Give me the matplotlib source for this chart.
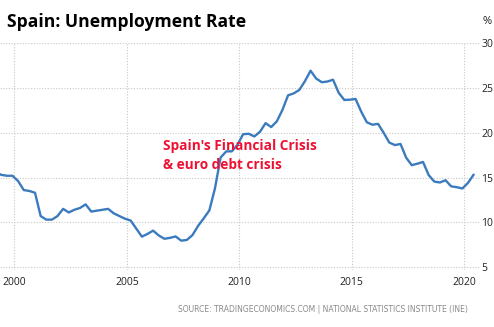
import numpy as np
import matplotlib
matplotlib.use("Agg")
import matplotlib.pyplot as plt

# Spain quarterly unemployment rate (%)
quarters = [
    "1999Q1", "1999Q2", "1999Q3", "1999Q4",
    "2000Q1", "2000Q2", "2000Q3", "2000Q4",
    "2001Q1", "2001Q2", "2001Q3", "2001Q4",
    "2002Q1", "2002Q2", "2002Q3", "2002Q4",
    "2003Q1", "2003Q2", "2003Q3", "2003Q4",
    "2004Q1", "2004Q2", "2004Q3", "2004Q4",
    "2005Q1", "2005Q2", "2005Q3", "2005Q4",
    "2006Q1", "2006Q2", "2006Q3", "2006Q4",
    "2007Q1", "2007Q2", "2007Q3", "2007Q4",
    "2008Q1", "2008Q2", "2008Q3", "2008Q4",
    "2009Q1", "2009Q2", "2009Q3", "2009Q4",
    "2010Q1", "2010Q2", "2010Q3", "2010Q4",
    "2011Q1", "2011Q2", "2011Q3", "2011Q4",
    "2012Q1", "2012Q2", "2012Q3", "2012Q4",
    "2013Q1", "2013Q2", "2013Q3", "2013Q4",
    "2014Q1", "2014Q2", "2014Q3", "2014Q4",
    "2015Q1", "2015Q2", "2015Q3", "2015Q4",
    "2016Q1", "2016Q2", "2016Q3", "2016Q4",
    "2017Q1", "2017Q2", "2017Q3", "2017Q4",
    "2018Q1", "2018Q2", "2018Q3", "2018Q4",
    "2019Q1", "2019Q2", "2019Q3", "2019Q4",
    "2020Q1", "2020Q2",
]
rate = [
    15.6, 15.3, 15.2, 15.2,
    14.6, 13.6, 13.5, 13.3,
    10.7, 10.3, 10.3, 10.7,
    11.5, 11.1, 11.4, 11.6,
    12.0, 11.2, 11.3, 11.4,
    11.5, 11.0, 10.7, 10.4,
    10.2, 9.3, 8.4, 8.7,
    9.07, 8.53, 8.16, 8.26,
    8.42, 7.95, 8.03, 8.57,
    9.60, 10.44, 11.33, 13.79,
    17.24, 17.92, 17.93, 18.66,
    19.84, 19.89, 19.59, 20.11,
    21.08, 20.64, 21.28, 22.56,
    24.19, 24.40, 24.79, 25.77,
    26.94, 26.06, 25.65, 25.73,
    25.93, 24.47, 23.67, 23.70,
    23.78, 22.37, 21.18, 20.90,
    21.00, 20.00, 18.91, 18.63,
    18.75, 17.22, 16.38, 16.55,
    16.74, 15.28, 14.55, 14.45,
    14.70, 14.02, 13.92, 13.78,
    14.41, 15.33,
]
year_ticks = [2000, 2005, 2010, 2015, 2020]
rate_ticks = [5, 10, 15, 20, 25, 30]

# each quarter is dated at the start of its last month
t = np.array([int(q[:4]) + (int(q[-1]) * 3 - 1) / 12 for q in quarters])

fig = plt.figure(figsize=(4.94, 3.27), dpi=100)
ax = fig.add_axes([0.0, 0.1743, 0.9717, 0.6933])

ax.plot(t, rate, color="#3b7bbd", lw=1.7, solid_joinstyle="round", solid_capstyle="round")

ax.set_xlim(1999.36, 2020.7)
ax.set_ylim(4.67, 30)
ax.set_xticks(year_ticks)
ax.set_yticks(rate_ticks)
ax.yaxis.tick_right()
ax.grid(True, color="#c8c8c8", lw=0.8, ls=(0, (1, 1.5)))
for s in ax.spines.values():
    s.set_visible(False)
ax.tick_params(length=0, labelsize=7.5, labelcolor="#222222", pad=1)
ax.tick_params(axis="x", pad=5)
for lab in ax.get_xticklabels() + ax.get_yticklabels():
    lab.set_fontfamily("Open Sans")

fig.text(0.014, 0.933, "Spain: Unemployment Rate", fontsize=12.6, fontweight="bold",
         family="Open Sans", va="center", ha="left", color="black")
fig.text(0.976, 0.933, "%", fontsize=8, family="Open Sans", va="center", ha="left", color="#222222")

ax.text(2006.6, 19.3, "Spain's Financial Crisis\n& euro debt crisis", fontsize=9.8,
        fontweight="bold", family="Open Sans", color="#ee1133", va="top", ha="left",
        linespacing=1.45)

fig.text(0.36, 0.055, "SOURCE: TRADINGECONOMICS.COM | NATIONAL STATISTICS INSTITUTE (INE)",
         fontsize=5.5, family="DejaVu Sans", color="#8a8a8a", va="center", ha="left")

fig.savefig("out.png", dpi=100)
